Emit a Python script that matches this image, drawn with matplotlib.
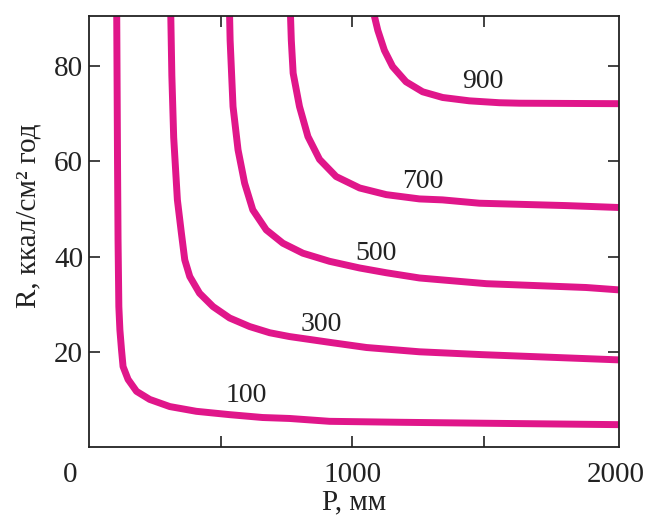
import matplotlib
matplotlib.use("Agg")
import matplotlib.pyplot as plt

# Кривые испарения (подписи 100...900), точки
labels = ["100", "300", "500", "700", "900"]

p100 = [106, 109, 111, 114, 118, 124, 130, 149, 181, 231, 307, 408, 534, 659, 761, 913, 1178, 1496, 2010]
r100 = [90.5, 60.0, 43.5, 29.5, 24.6, 20.5, 16.9, 14.2, 11.7, 10.0, 8.5, 7.5, 6.8, 6.2, 6.0, 5.4, 5.2, 5.0, 4.7]

p300 = [311, 315, 322, 336, 351, 364, 383, 420, 471, 534, 610, 686, 761, 924, 1053, 1254, 1492, 2010]
r300 = [90.5, 78.0, 65.0, 51.9, 45.0, 39.3, 35.8, 32.3, 29.5, 27.1, 25.3, 24.0, 23.2, 21.9, 20.9, 20.0, 19.4, 18.3]

p500 = [534, 536, 547, 566, 591, 622, 673, 736, 812, 913, 1027, 1128, 1254, 1508, 1886, 2010]
r500 = [90.5, 85.4, 71.5, 62.4, 55.4, 49.8, 45.6, 42.8, 40.7, 39.0, 37.6, 36.6, 35.5, 34.3, 33.5, 33.0]

p700 = [765, 768, 775, 799, 831, 875, 938, 1027, 1128, 1254, 1341, 1481, 1811, 2010]
r700 = [90.5, 85.4, 78.5, 71.5, 65.2, 60.4, 56.8, 54.4, 53.0, 52.1, 51.9, 51.2, 50.7, 50.3]

p900 = [1083, 1096, 1121, 1152, 1203, 1266, 1342, 1443, 1557, 1633, 2010]
r900 = [90.5, 87.5, 83.3, 79.9, 76.7, 74.6, 73.4, 72.7, 72.3, 72.2, 72.1]

# Положение подписей кривых
lab_p = [597, 883, 1090, 1265, 1494]
lab_r = [10.9, 25.7, 40.7, 55.7, 76.7]

curves = [(p100, r100), (p300, r300), (p500, r500), (p700, r700), (p900, r900)]

plt.rcParams['font.family'] = ['Liberation Serif', 'DejaVu Serif']

fig = plt.figure(figsize=(6.48, 5.18), dpi=100)
ax = fig.add_axes([0.137, 0.137, 0.818, 0.832])

color = '#E0168A'
for (p, r) in curves:
    ax.plot(p, r, color=color, lw=5, solid_capstyle='butt', solid_joinstyle='round')

for txt, x, y in zip(labels, lab_p, lab_r):
    ax.text(x, y, txt, fontsize=20, ha='center', va='center', color='#222222')

ax.set_xlim(0, 2010)
ax.set_ylim(0, 90.5)

ax.set_xticks([500, 1000, 1500, 2000])
ax.set_xticklabels(['', '1000', '', '2000'])
ax.set_yticks([20, 40, 60, 80])
ax.tick_params(direction='in', top=True, right=True, length=8, width=1.2,
               labelsize=21, colors='#222222')
ax.tick_params(axis='x', pad=11)
ax.tick_params(axis='y', pad=4)
ax.xaxis.get_major_ticks()[3].tick1line.set_visible(False)
ax.xaxis.get_major_ticks()[3].tick2line.set_visible(False)

# "0" в углу
ax.text(-72, -5.8, '0', fontsize=21, ha='center', va='center', color='#222222')

for s in ax.spines.values():
    s.set_linewidth(1.3)
    s.set_color('#222222')

ax.set_xlabel('P, мм', fontsize=21, color='#222222', labelpad=1)
ax.set_ylabel('R, ккал/см² год', fontsize=21, color='#222222')
ax.yaxis.set_label_coords(-0.09, 0.537)

fig.savefig('out.png', dpi=100)
